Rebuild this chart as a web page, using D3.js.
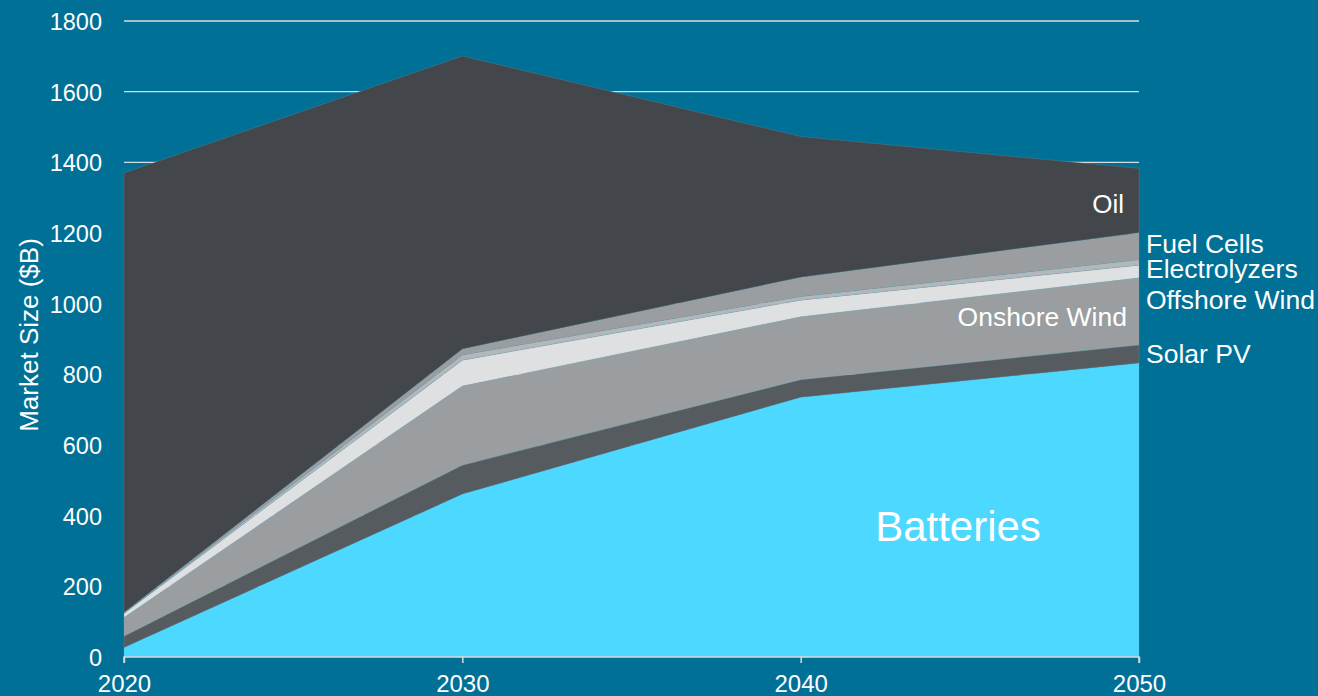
<!DOCTYPE html>
<html>
<head>
<meta charset="utf-8">
<script src="https://cdn.jsdelivr.net/npm/d3@7"></script>
<style>
  html, body { margin: 0; padding: 0; background: #007096; }
  svg { display: block; font-family: "Liberation Sans", Arial, sans-serif; }
</style>
</head>
<body>
<svg id="chart" width="1318" height="696"></svg>
<script>
const years = [2020, 2030, 2040, 2050];
const seriesNames = ["Batteries", "Solar PV", "Onshore Wind", "Offshore Wind", "Electrolyzers", "Fuel Cells", "Oil"];
const batteries     = [27, 461, 735, 832];
const solarPV       = [32, 82, 50, 51];
const onshoreWind   = [53, 224, 178, 190];
const offshoreWind  = [11, 73, 47, 36];
const electrolyzers = [1, 15, 10, 15];
const fuelCells     = [2, 17, 55, 77];
const oil           = [1244, 829, 398, 182];
const yTicks = [0, 200, 400, 600, 800, 1000, 1200, 1400, 1600, 1800];

const colors = {
  "Batteries": "#4dd8ff",
  "Solar PV": "#565b60",
  "Onshore Wind": "#9a9ea1",
  "Offshore Wind": "#dfe0e2",
  "Electrolyzers": "#b3b7ba",
  "Fuel Cells": "#9a9ea1",
  "Oil": "#43464b"
};

const valuesByName = {
  "Batteries": batteries, "Solar PV": solarPV, "Onshore Wind": onshoreWind,
  "Offshore Wind": offshoreWind, "Electrolyzers": electrolyzers,
  "Fuel Cells": fuelCells, "Oil": oil
};
const table = years.map((y, i) => {
  const row = { year: y };
  seriesNames.forEach(n => row[n] = valuesByName[n][i]);
  return row;
});

const svg = d3.select("#chart");
const x = d3.scaleLinear().domain([2020, 2050]).range([124, 1139]);
const y = d3.scaleLinear().domain([0, 1800]).range([657, 21]);

// gridlines
svg.append("g").selectAll("line").data(yTicks.filter(t => t > 0)).join("line")
  .attr("x1", x(2020)).attr("x2", x(2050))
  .attr("y1", d => y(d)).attr("y2", d => y(d))
  .attr("stroke", "#d9dcde").attr("stroke-width", 1.3);

const stacked = d3.stack().keys(seriesNames)(table);
const area = d3.area()
  .x(d => x(d.data.year))
  .y0(d => y(d[0]))
  .y1(d => y(d[1]));

svg.append("g").selectAll("path").data(stacked).join("path")
  .attr("d", area)
  .attr("fill", d => colors[d.key])
  .attr("stroke", "#7aa9b8")
  .attr("stroke-width", 0.4)
  .attr("stroke-opacity", 0.6);

// x axis
const xAxis = d3.axisBottom(x).tickValues(years).tickFormat(d3.format("d")).tickSize(6).tickPadding(12);
const gx = svg.append("g").attr("transform", `translate(0,${y(0)})`).call(xAxis);
gx.select(".domain").attr("stroke", "#d9d9d9").attr("stroke-width", 1.5)
  .attr("d", `M${x(2020)},6V0H${x(2050)}V6`);
gx.selectAll(".tick line").attr("stroke", "#d9d9d9").attr("stroke-width", 1.5);
gx.selectAll(".tick text").attr("fill", "#ffffff").attr("font-size", 24)
  .attr("font-family", "'Liberation Sans', Arial, sans-serif");

// y axis
const yAxis = d3.axisLeft(y).tickValues(yTicks).tickFormat(d3.format("d")).tickSize(0).tickPadding(22);
const gy = svg.append("g").attr("transform", `translate(${x(2020)},0)`).call(yAxis);
gy.select(".domain").remove();
gy.selectAll(".tick text").attr("fill", "#ffffff").attr("font-size", 23.5)
  .attr("font-family", "'Liberation Sans', Arial, sans-serif").attr("dy", "0.36em");

// y title
svg.append("text")
  .attr("transform", "translate(38,335) rotate(-90)")
  .attr("text-anchor", "middle")
  .attr("fill", "#ffffff").attr("font-size", 26)
  .text("Market Size ($B)");

// series labels
const labels = [
  { t: "Oil", x: 1124, y: 213, a: "end", s: 26 },
  { t: "Fuel Cells", x: 1146, y: 253, a: "start", s: 26.5 },
  { t: "Electrolyzers", x: 1146, y: 278, a: "start", s: 26.5 },
  { t: "Offshore Wind", x: 1146, y: 309, a: "start", s: 26.5 },
  { t: "Solar PV", x: 1146, y: 363, a: "start", s: 26.5 },
  { t: "Onshore Wind", x: 1127, y: 326, a: "end", s: 26.5 },
  { t: "Batteries", x: 958, y: 541, a: "middle", s: 42 }
];
svg.append("g").selectAll("text").data(labels).join("text")
  .attr("x", d => d.x).attr("y", d => d.y)
  .attr("text-anchor", d => d.a)
  .attr("font-size", d => d.s)
  .attr("fill", "#ffffff")
  .text(d => d.t);
</script>
</body>
</html>
